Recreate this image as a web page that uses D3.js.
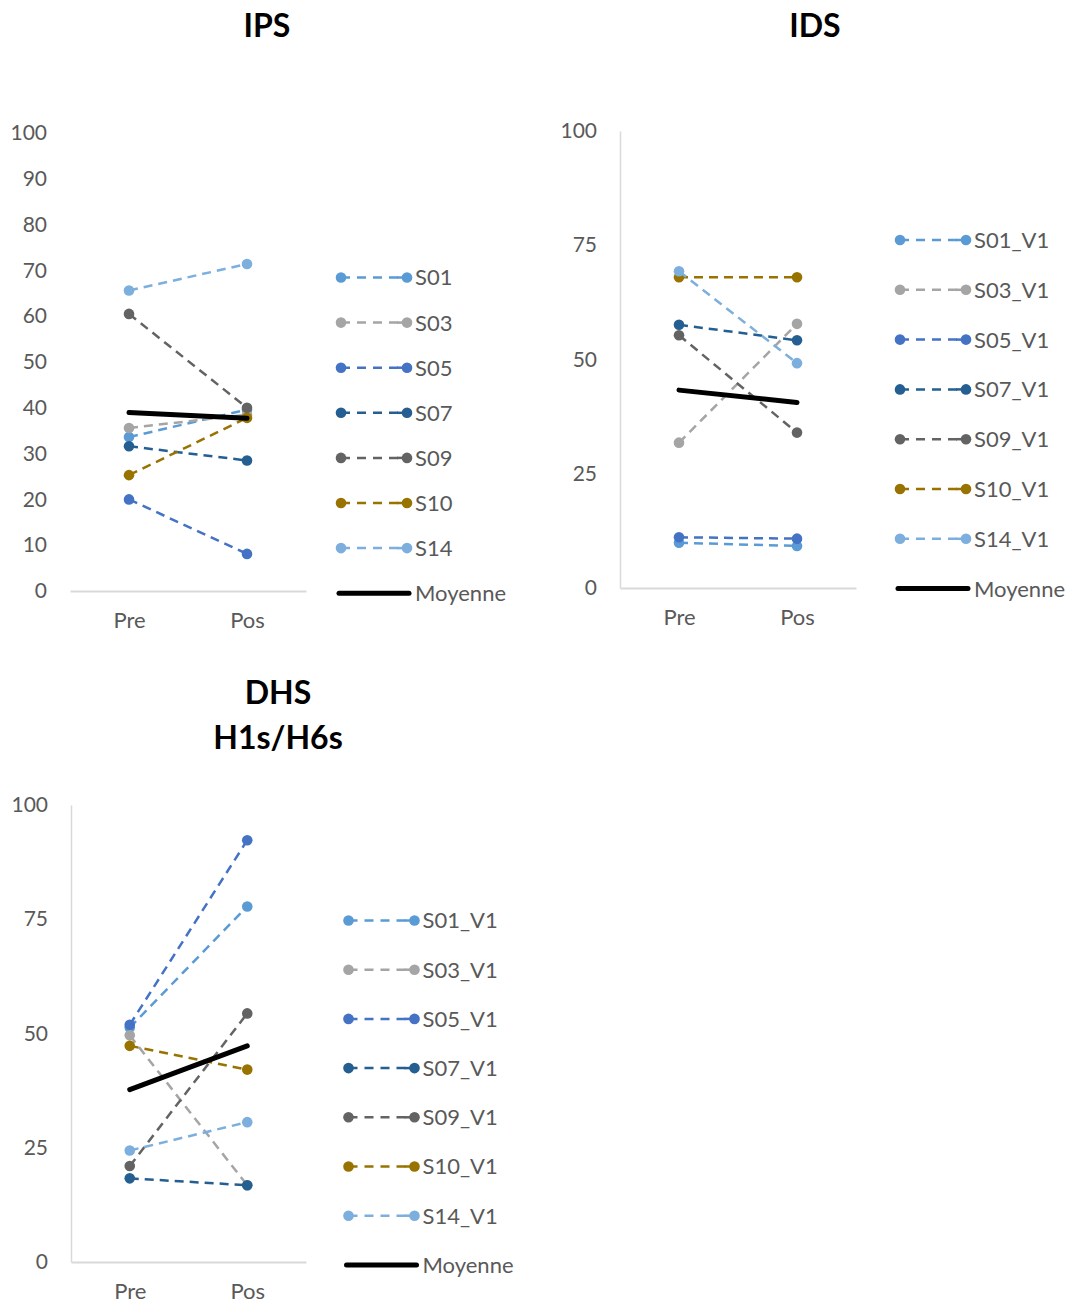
<!DOCTYPE html>
<html><head><meta charset="utf-8">
<script src="https://cdn.jsdelivr.net/npm/d3@7"></script>
<style>
html,body{margin:0;padding:0;background:#fff;}
svg{display:block;font-family:Lato,"Open Sans",sans-serif;}
</style></head>
<body>
<svg id="c" width="1074" height="1306"></svg>
<script>
// ---- data ----
const categories = ["Pre", "Pos"];
const seriesColors = ["#5B9BD5", "#A5A5A5", "#4472C4", "#255E91", "#636363", "#997300", "#7CAFDD"];

const ipsNames = ["S01", "S03", "S05", "S07", "S09", "S10", "S14"];
const ipsPre  = [33.6, 35.6, 20.0, 31.6, 60.5, 25.3, 65.6];
const ipsPos  = [39.6, 38.5, 8.1, 28.5, 40.0, 37.8, 71.4];
const ipsMean = [39.0, 37.7];
const ipsTicks = [0, 10, 20, 30, 40, 50, 60, 70, 80, 90, 100];

const idsNames = ["S01_V1", "S03_V1", "S05_V1", "S07_V1", "S09_V1", "S10_V1", "S14_V1"];
const idsPre  = [9.9, 31.8, 11.1, 57.6, 55.3, 68.0, 69.3];
const idsPos  = [9.2, 57.8, 10.8, 54.2, 34.0, 68.0, 49.2];
const idsMean = [43.3, 40.6];
const idsTicks = [0, 25, 50, 75, 100];

const dhsNames = ["S01_V1", "S03_V1", "S05_V1", "S07_V1", "S09_V1", "S10_V1", "S14_V1"];
const dhsPre  = [51.3, 49.6, 51.9, 18.3, 21.0, 47.3, 24.4];
const dhsPos  = [77.8, 16.8, 92.3, 16.8, 54.4, 42.1, 30.6];
const dhsMean = [37.7, 47.3];
const dhsTicks = [0, 25, 50, 75, 100];

const meanLabel = "Moyenne";

// ---- drawing ----
const svg = d3.select("#c");
const TXT = "#595959";

function panel(cfg) {
  const g = svg.append("g");
  const x = d3.scalePoint().domain(categories).range([cfg.x0, cfg.x1]).padding(0.5);
  const y = d3.scaleLinear().domain([0, 100]).range([cfg.yb, cfg.yt]);

  // title
  const t = g.append("text").attr("x", cfg.tx).attr("y", cfg.ty)
    .attr("text-anchor", "middle").attr("font-weight", "bold")
    .attr("font-size", 32).attr("fill", "#000");
  cfg.title.forEach((s, i) => t.append("tspan").attr("x", cfg.tx).attr("dy", i ? 45 : 0).text(s));

  // y axis
  const ya = g.append("g").attr("transform", `translate(${cfg.x0},0)`)
    .call(d3.axisLeft(y).tickValues(cfg.ticks).tickSize(0).tickPadding(23).tickFormat(d3.format("d")));
  ya.select(".domain").attr("stroke", cfg.vaxis ? "#D9D9D9" : "none").attr("stroke-width", 1.5);
  ya.selectAll("text").attr("font-size", 21).attr("fill", TXT).attr("font-family", "Lato");

  // x axis
  const xa = g.append("g").attr("transform", `translate(0,${cfg.yb})`)
    .call(d3.axisBottom(x).tickSize(0).tickPadding(21));
  xa.select(".domain").attr("stroke", "#D9D9D9").attr("stroke-width", 2);
  xa.selectAll("text").attr("font-size", 22).attr("fill", TXT).attr("font-family", "Lato");

  const line = d3.line().x((d, i) => x(categories[i])).y(d => y(d));

  // series
  cfg.names.forEach((n, i) => {
    const vals = [cfg.pre[i], cfg.pos[i]];
    g.append("path").attr("d", line(vals)).attr("fill", "none")
      .attr("stroke", seriesColors[i]).attr("stroke-width", 2.5)
      .attr("stroke-dasharray", "9,6");
    vals.forEach((v, j) => g.append("circle").attr("cx", x(categories[j])).attr("cy", y(v))
      .attr("r", 5.3).attr("fill", seriesColors[i]));
  });
  // mean
  g.append("path").attr("d", line(cfg.mean)).attr("fill", "none")
    .attr("stroke", "#000").attr("stroke-width", 5).attr("stroke-linecap", "round");

  // legend
  const lg = g.append("g");
  cfg.names.forEach((n, i) => {
    const yy = cfg.ly0 + i * cfg.lstep;
    lg.append("line").attr("x1", cfg.lx).attr("x2", cfg.lx + 66).attr("y1", yy).attr("y2", yy)
      .attr("stroke", seriesColors[i]).attr("stroke-width", 2.5).attr("stroke-dasharray", "9,7");
    lg.append("line").attr("x1", cfg.lx + 56).attr("x2", cfg.lx + 66).attr("y1", yy).attr("y2", yy)
      .attr("stroke", seriesColors[i]).attr("stroke-width", 2.5);
    [0, 66].forEach(dx => lg.append("circle").attr("cx", cfg.lx + dx).attr("cy", yy)
      .attr("r", 5.3).attr("fill", seriesColors[i]));
    lg.append("text").attr("x", cfg.lx + 74).attr("y", yy).attr("dy", "0.36em")
      .attr("font-size", 22).attr("fill", TXT).text(n);
  });
  const my = cfg.ly0 + cfg.names.length * cfg.lstep;
  lg.append("line").attr("x1", cfg.lx - 2).attr("x2", cfg.lx + 68).attr("y1", my).attr("y2", my)
    .attr("stroke", "#000").attr("stroke-width", 5).attr("stroke-linecap", "round");
  lg.append("text").attr("x", cfg.lx + 74).attr("y", my).attr("dy", "0.36em")
    .attr("font-size", 22).attr("fill", TXT).text(meanLabel);
}

panel({title: ["IPS"], tx: 267, ty: 37, x0: 70, x1: 306, yb: 591, yt: 133, vaxis: false,
  ticks: ipsTicks, names: ipsNames, pre: ipsPre, pos: ipsPos, mean: ipsMean,
  lx: 341, ly0: 277.5, lstep: 45.1});
panel({title: ["IDS"], tx: 815, ty: 37, x0: 620, x1: 856, yb: 588, yt: 131, vaxis: true,
  ticks: idsTicks, names: idsNames, pre: idsPre, pos: idsPos, mean: idsMean,
  lx: 900, ly0: 240, lstep: 49.8});
panel({title: ["DHS", "H1s/H6s"], tx: 278, ty: 704, x0: 71, x1: 306, yb: 1262, yt: 805, vaxis: true,
  ticks: dhsTicks, names: dhsNames, pre: dhsPre, pos: dhsPos, mean: dhsMean,
  lx: 348.5, ly0: 920.5, lstep: 49.2});
</script>
</body></html>
